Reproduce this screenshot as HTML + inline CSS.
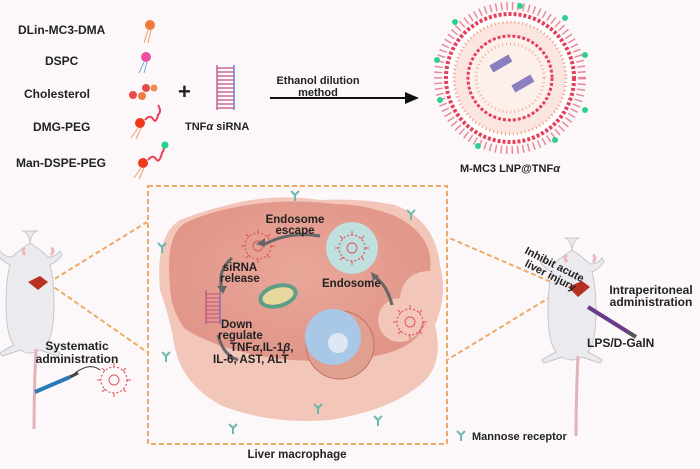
<!DOCTYPE html><html><head><style>
body{margin:0;width:700px;height:464px;background:#fcf8fa;overflow:hidden;font-family:"Liberation Sans",sans-serif}
svg text{font-family:"Liberation Sans",sans-serif;font-weight:bold;fill:#222}
</style></head><body>
<svg width="700" height="464" viewBox="0 0 700 464">
<defs>
<radialGradient id="cell" cx="50%" cy="45%" r="60%"><stop offset="0" stop-color="#e9a79a"/><stop offset="1" stop-color="#e09487"/></radialGradient>
<g id="lnp"><circle r="13" fill="none" stroke="#e0565a" stroke-width="1.2" stroke-dasharray="2 2"/><circle r="5" fill="none" stroke="#e0565a" stroke-width="1"/>
<path d="M0-13v-4M0 13v4M-13 0h-4M13 0h4M9-9l3-3M-9 9l-3 3M9 9l3 3M-9-9l-3-3" stroke="#e0565a" stroke-width="1"/></g>
<g id="rec"><path d="M0 0v6M0 0l-4-4M0 0l4-4" stroke="#6fb7ad" stroke-width="2" fill="none"/></g>
<g id="mouse">
<path d="M0 -52q-6 0-8 12q-12 8-18 14q-8 0-12-6l-2 4q4 6 12 10q-4 14-4 40q0 30 8 40q-8 4-14 8l2 3q10-3 18-6q10 6 20 0q8 3 18 6l2-3q-6-4-14-8q8-10 8-40q0-26-4-40q8-4 12-10l-2-4q-4 6-12 6q-6-6-18-14q-2-12-8-12z" fill="#ebeaee" stroke="#c8c6cc"/>
<path d="M-13-28q-4-5 0-7M13-28q4-5 0-7" stroke="#e8b8bc" stroke-width="3" fill="none"/>
<path d="M-2 66q-2 40 -2 80" stroke="#e2b2b6" stroke-width="3" fill="none"/>
</g>
</defs>
<!-- top left components -->
<text x="18" y="34" font-size="12">DLin-MC3-DMA</text>
<text x="45" y="65" font-size="12">DSPC</text>
<text x="24" y="98" font-size="12">Cholesterol</text>
<text x="33" y="131" font-size="12">DMG-PEG</text>
<text x="16" y="167" font-size="12">Man-DSPE-PEG</text>
<circle cx="150" cy="25" r="5" fill="#f07a3c"/><path d="M148 30l-4 13M151 30l-3 13" stroke="#f09a70"/>
<circle cx="146" cy="57" r="5" fill="#ee4fa0"/><path d="M144 62l-5 11M147 62l-3 11" stroke="#6ab0e0"/>
<circle cx="133" cy="95" r="4" fill="#ea4a4a"/><circle cx="142" cy="96" r="4" fill="#ef7a45"/><circle cx="146" cy="88" r="4" fill="#ea4a4a"/><circle cx="154" cy="88" r="3.5" fill="#f08a50"/>
<circle cx="140" cy="123" r="5" fill="#ee3a1a"/><path d="M145 120q5-6 8-1t5-4q4-4 0-10" stroke="#e84060" stroke-width="2" fill="none"/><path d="M138 128l-7 10M141 128l-5 11" stroke="#f09a70"/>
<circle cx="143" cy="163" r="5" fill="#ee3a1a"/><path d="M148 160q5-6 8-1t6-6q3-4 1-7" stroke="#e84060" stroke-width="2" fill="none"/><circle cx="165" cy="145" r="3.5" fill="#1fd38a"/><path d="M141 168l-7 10M144 168l-5 11" stroke="#f09a70"/>
<text x="178" y="99" font-size="22">+</text>
<g stroke-width="1.2"><path d="M217 65v45" stroke="#b04080"/><path d="M234 65v45" stroke="#5060c0"/>
<path d="M217 68h17M217 72h17M217 76h17M217 80h17M217 84h17M217 88h17M217 92h17M217 96h17M217 100h17M217 104h17M217 108h17" stroke="#c05080"/></g>
<text x="185" y="130" font-size="11">TNF<tspan font-style="italic">α</tspan> siRNA</text>
<text x="318" y="84" font-size="11" text-anchor="middle">Ethanol dilution</text>
<text x="318" y="96" font-size="11" text-anchor="middle">method</text>
<path d="M270 98h140" stroke="#111" stroke-width="2"/><path d="M405 92l14 6-14 6z" fill="#111"/>
<!-- LNP -->
<circle cx="510" cy="78" r="72" fill="none" stroke="#e88a9a" stroke-width="8" stroke-dasharray="1.5 4"/>
<circle cx="510" cy="78" r="64" fill="#fff" stroke="#e5405a" stroke-width="4" stroke-dasharray="3 2"/>
<circle cx="510" cy="78" r="56" fill="#fbe5e0" stroke="#f39a80" stroke-width="3" stroke-dasharray="1 3"/>
<circle cx="510" cy="78" r="42" fill="#fdf0ea" stroke="#e5405a" stroke-width="3" stroke-dasharray="3 2"/>
<circle cx="510" cy="78" r="34" fill="none" stroke="#f2b0a0" stroke-width="3" stroke-dasharray="1 3"/>
<rect x="490" y="60" width="22" height="8" fill="#8a80c0" transform="rotate(-30 500 64)"/><rect x="512" y="80" width="22" height="8" fill="#8a80c0" transform="rotate(-30 522 84)"/>
<g fill="#2fcf90"><circle cx="455" cy="22" r="3"/><circle cx="565" cy="18" r="3"/><circle cx="585" cy="110" r="3"/><circle cx="440" cy="100" r="3"/><circle cx="520" cy="6" r="3"/><circle cx="478" cy="146" r="3"/><circle cx="555" cy="140" r="3"/><circle cx="585" cy="55" r="3"/><circle cx="437" cy="60" r="3"/></g>
<text x="510" y="172" font-size="11" text-anchor="middle">M-MC3 LNP@TNF<tspan font-style="italic">α</tspan></text>
<!-- dashed box -->
<rect x="148" y="186" width="299" height="258" fill="none" stroke="#eeaa66" stroke-width="2" stroke-dasharray="5 3"/>
<path d="M48 283L147 222M48 283L147 352M565 288L447 237M565 288L447 360" stroke="#eeaa66" stroke-width="2" stroke-dasharray="5 3"/>
<!-- cell -->
<path d="M160 290q-5-55 20-70q25-10 60-18q40-8 80-2q40-2 75 5q40 15 45 60q8 30-5 60q10 40-15 60q-30 25-90 35q-60 5-110-15q-38-22-45-57q-5-30-15-58z" fill="#f3c6ba"/>
<path d="M170 285q-5-50 15-62q30-14 70-19q40-5 80 0q30 0 60 12q40 20 35 55q-25 0-30 25q0 20 25 28q-10 25-50 32q-40 8-95 3q-60-8-95-30q-15-20-15-44z" fill="url(#cell)"/>
<circle cx="400" cy="320" r="22" fill="#f3c6ba"/><use href="#lnp" x="410" y="322"/>
<circle cx="352" cy="248" r="26" fill="#bfe0df"/><use href="#lnp" x="352" y="248"/>
<use href="#lnp" x="258" y="246"/>
<ellipse cx="278" cy="296" rx="20" ry="12" fill="#5c9e86" transform="rotate(-15 278 296)"/><ellipse cx="278" cy="296" rx="16" ry="8" fill="#e8d8a0" transform="rotate(-15 278 296)"/>
<circle cx="340" cy="345" r="34" fill="#e0a090" stroke="#c07060"/><circle cx="333" cy="337" r="28" fill="#a9c8e8"/><circle cx="338" cy="343" r="10" fill="#dde8f4"/>
<path d="M320 236q-30-5-55 8" stroke="#666" stroke-width="3" fill="none"/><path d="M256 244l9-6 0 9z" fill="#666"/>
<path d="M232 258q-15 12-10 32" stroke="#666" stroke-width="3" fill="none"/><path d="M217 286l6 8 4-8z" fill="#666"/>
<path d="M392 305q-5-20-17-28" stroke="#666" stroke-width="3" fill="none"/><path d="M371 272l2 9 6-5z" fill="#666"/>
<path d="M218 335q5 20 20 25" stroke="#666" stroke-width="3" fill="none"/>
<g stroke-width="1"><path d="M206 290v34" stroke="#b04080"/><path d="M220 290v34" stroke="#5060c0"/><path d="M206 294h14M206 298h14M206 302h14M206 306h14M206 310h14M206 314h14M206 318h14M206 322h14" stroke="#c05080"/></g>
<g font-size="11.5"><text x="295" y="223" text-anchor="middle">Endosome</text><text x="295" y="234" text-anchor="middle">escape</text>
<text x="240" y="271" text-anchor="middle">siRNA</text><text x="240" y="282" text-anchor="middle">release</text>
<text x="322" y="287">Endosome</text>
<text x="221" y="328">Down</text><text x="218" y="339">regulate</text>
<text x="230" y="351">TNF<tspan font-style="italic">α</tspan>,IL-1<tspan font-style="italic">β</tspan>,</text>
<text x="213" y="363">IL-6, AST, ALT</text></g>
<use href="#rec" x="162" y="247"/><use href="#rec" x="295" y="195"/><use href="#rec" x="411" y="214"/><use href="#rec" x="166" y="356"/><use href="#rec" x="318" y="408"/><use href="#rec" x="378" y="420"/><use href="#rec" x="233" y="428"/>
<text x="297" y="458" font-size="11.5" text-anchor="middle">Liver macrophage</text>
<use href="#rec" x="461" y="435"/><text x="472" y="440" font-size="11">Mannose receptor</text>
<!-- left mouse -->
<use href="#mouse" x="38" y="283"/>
<path d="M28 282l12-6 8 6-10 8z" fill="#b83020"/>
<text x="77" y="350" font-size="12" text-anchor="middle">Systematic</text><text x="77" y="363" font-size="12" text-anchor="middle">administration</text>
<path d="M35 392l35-15" stroke="#2a7ab8" stroke-width="4"/><path d="M70 377l8-4" stroke="#444" stroke-width="3"/>
<path d="M100 370q-10-8-25 3" stroke="#333" fill="none"/><use href="#lnp" x="114" y="380"/>
<!-- right mouse -->
<use href="#mouse" x="580" y="290"/>
<path d="M568 287l14-6 8 6-12 10z" fill="#b83020"/>
<path d="M588 307l40 25" stroke="#6a3a8a" stroke-width="4"/><path d="M628 332l8 5" stroke="#555" stroke-width="4"/>
<text x="524" y="253" font-size="11" transform="rotate(27 524 253)">Inhibit acute</text>
<text x="524" y="266" font-size="11" transform="rotate(27 524 266)">liver injury</text>
<text x="651" y="294" font-size="12" text-anchor="middle">Intraperitoneal</text><text x="651" y="306" font-size="12" text-anchor="middle">administration</text>
<text x="587" y="347" font-size="12">LPS/D-GalN</text>
</svg>
</body></html>
